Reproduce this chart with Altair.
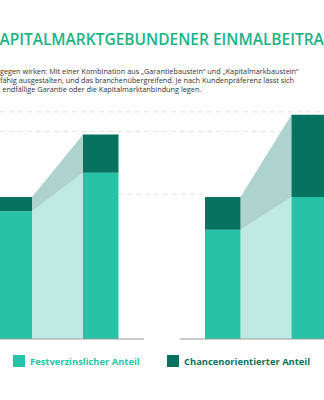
import altair as alt
import pandas as pd

# ---------------- data ----------------
panels = ["Variante 1", "Variante 2"]
stages = ["Beginn", "Ende"]
# values per (panel, stage), index = panel*2 + stage  (left bars = 100)
fest_values = [90, 117, 77, 100]
chance_values = [10, 27, 23, 58]
grid_levels = [102, 146, 160]
legend_labels = ["Festverzinslicher Anteil", "Chancenorientierter Anteil"]

title_text = "KAPITALMARKTGEBUNDENER EINMALBEITRAG"
body_lines = [
    "gegen wirken: Mit einer Kombination aus \u201eGarantiebaustein\u201c und \u201eKapitalmarkbaustein\u201c",
    "fähig ausgestalten, und das branchenübergreifend. Je nach Kundenpräferenz lässt sich",
    "die endfällige Garantie oder die Kapitalmarktanbindung legen.",
]

# ---------------- layout / style ----------------
W, H = 324, 400
BASE_Y = 339
PX_PER_UNIT = 1.42
BAR_W = 35.5
PANEL_LEFT = [-3.5, 205]     # left edge of first bar in each panel
STAGE_GAP = 86.5              # distance between bar left edges inside a panel
AXIS_SPANS = [(0, 144), (180, 324)]
GRID_SPANS = [(118, 205), (0, W), (0, W)]

C_FEST = "#27c3a7"
C_CHANCE = "#05735f"
C_AREA_FEST = "#bfeae3"
C_AREA_CHANCE = "#aed3cf"
C_TITLE = "#1ab386"
FONT = "Open Sans"

xs = alt.Scale(domain=[0, W], range=[0, W])
ys = alt.Scale(domain=[0, BASE_Y / PX_PER_UNIT], range=[BASE_Y, 0])

rows = []
for pi, p in enumerate(panels):
    for si, s in enumerate(stages):
        k = pi * 2 + si
        x0 = PANEL_LEFT[pi] + si * STAGE_GAP
        rows.append(dict(panel=p, stage=s, x0=x0, x1=x0 + BAR_W,
                         fest=fest_values[k], total=fest_values[k] + chance_values[k]))
bars = pd.DataFrame(rows)

area_layers = []
for pi, p in enumerate(panels):
    a = rows[pi * 2]
    b = rows[pi * 2 + 1]
    adf = pd.DataFrame(dict(x=[a["x1"], b["x0"]], fest=[a["fest"], b["fest"]],
                            total=[a["total"], b["total"]], zero=[0, 0]))
    area_layers.append(alt.Chart(adf).mark_area(color=C_AREA_FEST, clip=True).encode(
        x=alt.X("x:Q", scale=xs, axis=None),
        y=alt.Y("fest:Q", scale=ys, axis=None, stack=None), y2="zero:Q"))
    area_layers.append(alt.Chart(adf).mark_area(color=C_AREA_CHANCE, clip=True).encode(
        x=alt.X("x:Q", scale=xs, axis=None),
        y=alt.Y("total:Q", scale=ys, axis=None, stack=None), y2="fest:Q"))

grid = pd.DataFrame(dict(level=grid_levels,
                         gx0=[g[0] for g in GRID_SPANS],
                         gx1=[g[1] for g in GRID_SPANS]))
axis_df = pd.DataFrame(dict(ax0=[a[0] for a in AXIS_SPANS], ax1=[a[1] for a in AXIS_SPANS], zero=[0, 0]))

base_b = alt.Chart(bars)

grid_layer = alt.Chart(grid).mark_rule(color="#e2e2e2", strokeDash=[5, 4], strokeWidth=1, clip=True).encode(
    x=alt.X("gx0:Q", scale=xs, axis=None), x2="gx1:Q",
    y=alt.Y("level:Q", scale=ys, axis=None))

bar_fest = base_b.mark_rect(color=C_FEST, clip=True).encode(
    x=alt.X("x0:Q", scale=xs, axis=None), x2="x1:Q",
    y=alt.Y("fest:Q", scale=ys, axis=None), y2=alt.datum(0))
bar_chance = base_b.mark_rect(color=C_CHANCE, clip=True).encode(
    x=alt.X("x0:Q", scale=xs, axis=None), x2="x1:Q",
    y=alt.Y("total:Q", scale=ys, axis=None), y2="fest:Q")

axis_layer = alt.Chart(axis_df).mark_rule(color="#9b9b9b", strokeWidth=1.2, clip=True).encode(
    x=alt.X("ax0:Q", scale=xs, axis=None), x2="ax1:Q",
    y=alt.Y("zero:Q", scale=ys, axis=None))

title_layer = alt.Chart(pd.DataFrame({"t": [title_text]})).mark_text(
    align="left", baseline="alphabetic", font=FONT, fontSize=15.5, fontWeight=600,
    color=C_TITLE, clip=True).encode(
    text="t:N", x=alt.value(-10.5), y=alt.value(45))

body_layers = []
for i, line in enumerate(body_lines):
    body_layers.append(alt.Chart(pd.DataFrame({"t": [line]})).mark_text(
        align="left", baseline="middle", font=FONT, fontSize=7.3,
        color="#333333", clip=True).encode(
        text="t:N", x=alt.value(0 if i < 2 else -10), y=alt.value(72 + 9 * i)))

leg_colors = [C_FEST, C_CHANCE]
leg_x = [13, 167]
legend_layers = []
for lbl, col, lx in zip(legend_labels, leg_colors, leg_x):
    legend_layers.append(alt.Chart(pd.DataFrame({"t": [lbl]})).mark_rect(color=col).encode(
        x=alt.value(lx), x2=alt.value(lx + 12), y=alt.value(355), y2=alt.value(367)))
    legend_layers.append(alt.Chart(pd.DataFrame({"t": [lbl]})).mark_text(
        align="left", baseline="middle", font=FONT, fontSize=9.4, fontWeight="bold",
        color=col).encode(text="t:N", x=alt.value(lx + 17), y=alt.value(361.5)))

chart = alt.layer(
    grid_layer, *area_layers, bar_fest, bar_chance, axis_layer,
    title_layer, *body_layers, *legend_layers
).properties(
    width=W, height=H, padding=0, autosize=alt.AutoSizeParams(type="none"),
    background="white"
).configure_view(stroke=None)

chart.save("out.html", embed_options={"renderer": "svg", "actions": False})
